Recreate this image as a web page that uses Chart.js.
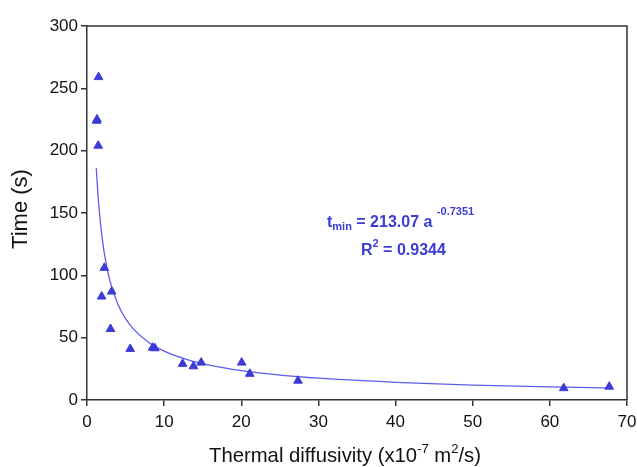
<!DOCTYPE html>
<html>
<head>
<meta charset="utf-8">
<script src="https://cdn.jsdelivr.net/npm/chart.js@4"></script>
<style>
  html, body { margin: 0; padding: 0; background: #fff; }
  #wrap { width: 637px; height: 467px; position: relative; }
</style>
</head>
<body>
<div id="wrap"><canvas id="chart"></canvas></div>
<script>
// Minimum time vs thermal diffusivity, with power-law fit

const diffusivity = [1.5, 1.25, 1.3, 1.45, 2.25, 1.9, 3.2, 3.05, 5.6, 8.5, 8.8, 12.4, 13.8, 14.8, 20.05, 21.1, 27.35, 61.8, 67.7];
const timeValues  = [259, 224, 225, 204, 106, 83, 87, 57, 41, 42, 41.5, 29, 27, 30, 30, 21, 15.5, 9.5, 10.7];

// fit curve
const fitX = [1.2, 1.5, 2, 2.5, 3, 4, 5, 6, 8, 10, 13, 16, 20, 25, 30, 40, 50, 60, 68];
const fitY = [186, 158, 128, 108.7, 95, 76.9, 65.3, 57.1, 46.2, 39.2, 32.4, 27.8, 23.6, 20.0, 17.5, 14.2, 12.0, 10.5, 9.6];

const fitLabel = ["t", "min", " = 213.07 a ", "-0.7351"];
const r2Label  = ["R", "2", " = 0.9344"];

const FONT = '"Liberation Sans", Arial, Helvetica, sans-serif';
const BLUE = "#3b3bd6";

const decor = {
  id: "decor",
  afterDraw(chart) {
    const ctx = chart.ctx;
    const a = chart.chartArea;
    ctx.save();
    // top + right frame lines
    ctx.strokeStyle = "#333";
    ctx.lineWidth = 1.5;
    ctx.beginPath();
    ctx.moveTo(a.left, a.top);
    ctx.lineTo(a.right, a.top);
    ctx.lineTo(a.right, a.bottom);
    ctx.stroke();

    // y title
    ctx.fillStyle = "#111";
    ctx.font = "22px " + FONT;
    ctx.textAlign = "center";
    ctx.textBaseline = "middle";
    ctx.translate(21, 209);
    ctx.rotate(-Math.PI / 2);
    ctx.fillText("Time (s)", 0, 0);
    ctx.setTransform(1, 0, 0, 1, 0, 0);

    // x title with superscripts
    ctx.textAlign = "left";
    ctx.textBaseline = "alphabetic";
    let x = 209, y = 462;
    const big = "20.3px " + FONT, small = "13px " + FONT;
    const parts = [["Thermal diffusivity (x10", big, 0], ["-7", small, -9], [" m", big, 0], ["2", small, -9], ["/s)", big, 0]];
    parts.forEach(([t, f, dy]) => {
      ctx.font = f;
      ctx.fillText(t, x, y + dy);
      x += ctx.measureText(t).width;
    });

    // fit annotation
    ctx.fillStyle = BLUE;
    const b16 = "bold 16px " + FONT, b11 = "bold 11px " + FONT;
    x = 327; y = 227;
    [[fitLabel[0], b16, 0], [fitLabel[1], b11, 3], [fitLabel[2], b16, 0], [fitLabel[3], b11, -12]].forEach(([t, f, dy]) => {
      ctx.font = f;
      ctx.fillText(t, x, y + dy);
      x += ctx.measureText(t).width;
    });
    x = 361; y = 255;
    [[r2Label[0], b16, 0], [r2Label[1], b11, -8], [r2Label[2], b16, 0]].forEach(([t, f, dy]) => {
      ctx.font = f;
      ctx.fillText(t, x, y + dy);
      x += ctx.measureText(t).width;
    });
    ctx.restore();
  }
};

new Chart(document.getElementById("chart"), {
  type: "scatter",
  data: {
    datasets: [
      {
        label: "Measured",
        data: diffusivity.map((d, i) => ({ x: d, y: timeValues[i] })),
        pointStyle: "triangle",
        pointRadius: 5,
        backgroundColor: BLUE,
        borderColor: BLUE,
        borderWidth: 1
      },
      {
        label: "Fit",
        type: "line",
        data: fitX.map((d, i) => ({ x: d, y: fitY[i] })),
        borderColor: "#5c5cf0",
        borderWidth: 1.3,
        pointRadius: 0,
        cubicInterpolationMode: "monotone",
        fill: false
      }
    ]
  },
  options: {
    responsive: true,
    maintainAspectRatio: false,
    animation: false,
    layout: { padding: { top: 26, right: 10, left: 0, bottom: 0 } },
    plugins: { legend: { display: false }, tooltip: { enabled: false } },
    scales: {
      x: {
        type: "linear",
        min: 0, max: 70,
        afterFit: s => { s.height = 67; s.paddingLeft = 0; s.paddingRight = 0; },
        ticks: { stepSize: 10, color: "#111", font: { family: FONT, size: 17 }, padding: 6 },
        grid: { drawOnChartArea: false, tickLength: 6, color: "#333", lineWidth: 1.5 },
        border: { color: "#333", width: 1.5 }
      },
      y: {
        min: 0, max: 300,
        afterFit: s => { s.width = 87; s.paddingTop = 0; s.paddingBottom = 0; },
        ticks: { stepSize: 50, color: "#111", font: { family: FONT, size: 17 }, padding: 3 },
        grid: { drawOnChartArea: false, tickLength: 6, color: "#333", lineWidth: 1.5 },
        border: { color: "#333", width: 1.5 }
      }
    }
  },
  plugins: [decor]
});
</script>
</body>
</html>
